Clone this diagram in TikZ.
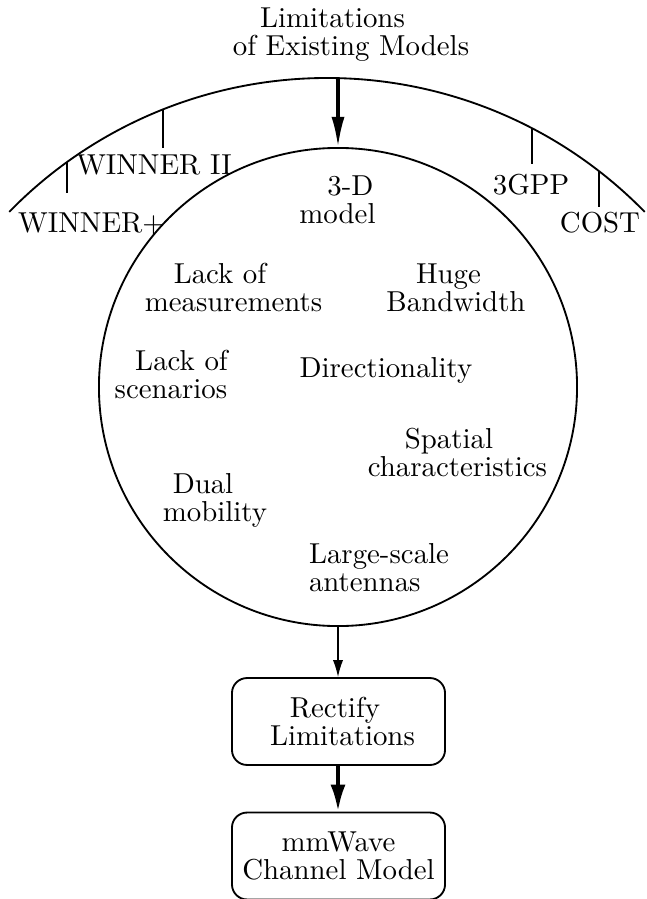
\documentclass[tikz,border=0pt]{standalone}
\usetikzlibrary{arrows.meta}
\newlength{\pxu}
\setlength{\pxu}{0.352pt}
\begin{document}
\begin{tikzpicture}[x=0.352pt,y=0.352pt,
  every node/.style={font=\fontsize{10.15}{9.86}\selectfont},
  txt/.style={align=center,inner sep=0pt},
  lbl/.style={anchor=base,inner sep=0pt},
  box/.style={draw,line width=0.65pt,rounded corners=5.3pt,minimum width=75pt,minimum height=30.6pt,align=center,inner sep=0pt},
  tick/.style={line width=0.65pt},
  thinarrow/.style={line width=0.5pt,-{Latex[length=6pt,width=3.6pt]}},
  bigarrow/.style={line width=1.1pt,-{Latex[length=10.6pt,width=4.6pt]}},
  bigarrowb/.style={line width=1.4pt,-{Latex[length=9.5pt,width=5.3pt]}}]
\useasboundingbox (0,0) rectangle (646,-899);

% title
\node[txt] (title) at (351,-35) {Limitations\rule{37\pxu}{0pt}\\of Existing Models};

% big arc
\coordinate (arcL) at (9.2,-211.9);
\coordinate (arcTop) at (338,-78.1);
\draw[line width=0.65pt] (arcL) arc[start angle=135.7,end angle=44.3,radius=156.29pt];

% ticks and labels
\coordinate (t1a) at (67,-162.1);  \coordinate (t1b) at (67,-193);
\coordinate (t2a) at (163,-109.4); \coordinate (t2b) at (163,-148);
\coordinate (t3a) at (532,-128.2); \coordinate (t3b) at (532,-164);
\coordinate (t4a) at (599,-171.1); \coordinate (t4b) at (599,-207);
\draw[tick] (t1a) -- (t1b);
\draw[tick] (t2a) -- (t2b);
\draw[tick] (t3a) -- (t3b);
\draw[tick] (t4a) -- (t4b);
\node[lbl] (wplus) at (91.5,-232) {WINNER+};
\node[lbl] (wii) at (154,-174) {WINNER II};
\node[lbl] (gpp) at (531,-194) {3GPP};
\node[lbl] (cost) at (600,-232) {COST};

% circle
\node[draw,circle,line width=0.65pt,minimum size=168.3pt,inner sep=0pt] (circ) at (338,-387) {};
\draw[bigarrow] (arcTop) -- (circ.north);

% inner texts
\node[txt] (n3d) at (337.5,-200) {\rule{26\pxu}{0pt}3-D\\model};
\node[txt] (nmeas) at (233.5,-287.5) {Lack of\rule{27\pxu}{0pt}\\measurements};
\node[txt] (nscen) at (171,-374) {\rule{21\pxu}{0pt}Lack of\\scenarios};
\node[txt] (nbw) at (456,-287.5) {Huge\rule{15\pxu}{0pt}\\Bandwidth};
\node[txt] (ndir) at (386,-370) {Directionality};
\node[txt] (nspat) at (457.5,-452) {Spatial\rule{17\pxu}{0pt}\\characteristics};
\node[txt] (ndual) at (215,-500) {Dual\rule{24\pxu}{0pt}\\mobility};
\node[txt,align=left] (nlarge) at (379,-568) {Large-scale\\antennas};

% boxes
\node[box] (rect) at (338.5,-721.5) {Rectify\rule{7\pxu}{0pt}\\\rule{8\pxu}{0pt}Limitations};
\node[box] (mmw) at (338.5,-856) {mmWave\\Channel Model};

\draw[thinarrow] (circ.south) -- (rect.north -| circ.south);
\draw[bigarrowb] (rect.south -| circ.south) -- (mmw.north -| circ.south);
\end{tikzpicture}
\end{document}
